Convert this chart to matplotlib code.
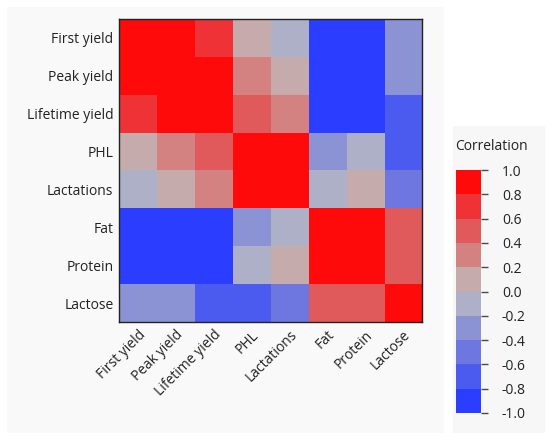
import numpy as np
import matplotlib
matplotlib.use("Agg")
import matplotlib.pyplot as plt
from matplotlib.colors import ListedColormap, BoundaryNorm
from matplotlib.patches import Rectangle

# -----------------------------
# Data
# -----------------------------
traits = ["First yield", "Peak yield", "Lifetime yield", "PHL",
          "Lactations", "Fat", "Protein", "Lactose"]

first_yield = [1.0, 0.9, 0.7, 0.1, -0.1, -0.9, -0.9, -0.3]
peak_yield = [0.9, 1.0, 0.9, 0.3, 0.1, -0.9, -0.9, -0.3]
lifetime_yield = [0.7, 0.9, 1.0, 0.5, 0.3, -0.9, -0.9, -0.7]
phl = [0.1, 0.3, 0.5, 1.0, 0.9, -0.3, -0.1, -0.7]
lactations = [-0.1, 0.1, 0.3, 0.9, 1.0, -0.1, 0.1, -0.5]
fat = [-0.9, -0.9, -0.9, -0.3, -0.1, 1.0, 0.9, 0.5]
protein = [-0.9, -0.9, -0.9, -0.1, 0.1, 0.9, 1.0, 0.5]
lactose = [-0.3, -0.3, -0.7, -0.7, -0.5, 0.5, 0.5, 1.0]

bounds = [-1.0, -0.8, -0.6, -0.4, -0.2, 0.0, 0.2, 0.4, 0.6, 0.8, 1.0]
bin_colors = ["#2b3dff", "#4b5aef", "#6e76e0", "#8c93d4", "#adb0c6",
              "#c5abab", "#d48181", "#e05a5c", "#ee3236", "#ff0a0a"]

corr = np.array([first_yield, peak_yield, lifetime_yield, phl,
                 lactations, fat, protein, lactose])

# -----------------------------
# Figure
# -----------------------------
plt.rcParams["font.family"] = ["Open Sans", "DejaVu Sans"]
W, H = 550, 437
fig = plt.figure(figsize=(W / 100, H / 100), dpi=100)
fig.patch.set_facecolor("white")

# light grey panels behind the map and the legend
fig.patches.append(Rectangle((7 / W, 1 - 433 / H), 437 / W, 426 / H,
                             transform=fig.transFigure, facecolor="#f9f9f9",
                             edgecolor="none", zorder=-5))
fig.patches.append(Rectangle((453 / W, 1 - 433 / H), 92 / W, 307 / H,
                             transform=fig.transFigure, facecolor="#f7f7f7",
                             edgecolor="none", zorder=-5))

cmap = ListedColormap(bin_colors)
norm = BoundaryNorm(bounds, cmap.N)

ax = fig.add_axes([119 / W, 1 - 322 / H, 303 / W, 303 / H])
im = ax.imshow(corr, cmap=cmap, norm=norm, aspect="auto",
               interpolation="nearest")
ax.set_xticks(range(len(traits)))
ax.set_yticks(range(len(traits)))
ax.set_xticklabels(traits, rotation=45, ha="right", va="top",
                   rotation_mode="anchor", fontsize=10, color="#222222")
ax.set_yticklabels(traits, fontsize=10, color="#222222")
ax.tick_params(length=0, pad=4)
for s in ax.spines.values():
    s.set_color("#222222")
    s.set_linewidth(1.0)

# -----------------------------
# Legend (colour bar)
# -----------------------------
cax = fig.add_axes([456 / W, 1 - 413 / H, 25 / W, 243 / H])
cb = fig.colorbar(im, cax=cax, ticks=bounds)
cb.outline.set_visible(False)
cb.ax.set_yticklabels([f"{b:.1f}" for b in bounds], fontsize=10,
                      color="#222222")
cb.ax.tick_params(length=5, width=1, pad=10)
tick_cols = [bin_colors[0]] + bin_colors
for line, c in zip(cb.ax.yaxis.get_ticklines(), np.repeat(tick_cols, 2)):
    line.set_color(c)
    line.set_alpha(0.7)
fig.text(455 / W, 1 - 146 / H, "Correlation", fontsize=10,
         color="#222222", va="center", ha="left")

fig.savefig("out.png", dpi=100, facecolor="white")
